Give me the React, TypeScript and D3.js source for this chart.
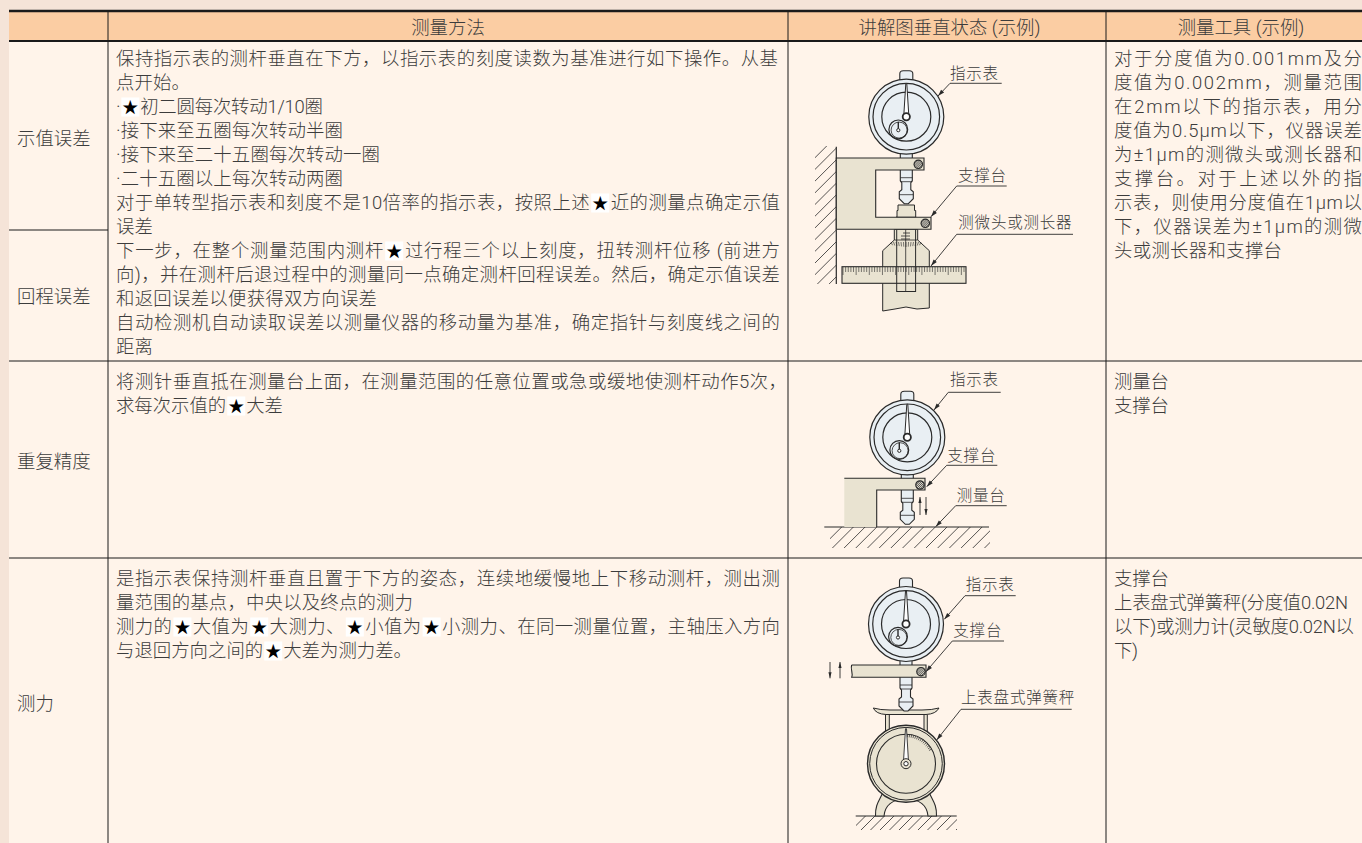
import * as d3 from 'd3';
import { useEffect, useRef } from 'react';

const headers = ['', '测量方法', '讲解图垂直状态 (示例)', '测量工具 (示例)'];
const categories = ['示值误差', '回程误差', '重复精度', '测力'];

const methodLines1 = [
  '保持指示表的测杆垂直在下方，以指示表的刻度读数为基准进行如下操作。从基',
  '点开始。',
  '·★初二圆每次转动1/10圈',
  '·接下来至五圈每次转动半圈',
  '·接下来至二十五圈每次转动一圈',
  '·二十五圈以上每次转动两圈',
  '对于单转型指示表和刻度不是10倍率的指示表，按照上述★近的测量点确定示值',
  '误差',
  '下一步，在整个测量范围内测杆★过行程三个以上刻度，扭转测杆位移 (前进方',
  '向)，并在测杆后退过程中的测量同一点确定测杆回程误差。然后，确定示值误差',
  '和返回误差以便获得双方向误差',
  '自动检测机自动读取误差以测量仪器的移动量为基准，确定指针与刻度线之间的',
  '距离',
];
const methodEnds1 = [778, 190, 323, 343, 380, 343, 780, 153, 780, 780, 377, 780, 153];
const methodLines2 = [
  '将测针垂直抵在测量台上面，在测量范围的任意位置或急或缓地使测杆动作5次，',
  '求每次示值的★大差',
];
const methodEnds2 = [787, 283];
const methodLines3 = [
  '是指示表保持测杆垂直且置于下方的姿态，连续地缓慢地上下移动测杆，测出测',
  '量范围的基点，中央以及终点的测力',
  '测力的★大值为★大测力、★小值为★小测力、在同一测量位置，主轴压入方向',
  '与退回方向之间的★大差为测力差。',
];
const methodEnds3 = [780, 413, 780, 412];

const toolLines1 = [
  '对于分度值为0.001mm及分',
  '度值为0.002mm，测量范围',
  '在2mm以下的指示表，用分',
  '度值为0.5μm以下，仪器误差',
  '为±1μm的测微头或测长器和',
  '支撑台。对于上述以外的指',
  '示表，则使用分度值在1μm以',
  '下，仪器误差为±1μm的测微',
  '头或测长器和支撑台',
];
const toolEnds1 = [1362, 1362, 1362, 1362, 1362, 1362, 1362, 1362, 1282];
const toolLines2 = ['测量台', '支撑台'];
const toolEnds2 = [1169, 1169];
const toolLines3 = ['支撑台', '上表盘式弹簧秤(分度值0.02N', '以下)或测力计(灵敏度0.02N以', '下)'];
const toolEnds3 = [1169, 1348, 1354, 1138];

const gaugeLabel = '指示表';
const supportLabel = '支撑台';
const micrometerLabel = '测微头或测长器';
const tableLabel = '测量台';
const scaleLabel = '上表盘式弹簧秤';

const W = 1362;
const H = 843;
const colX = [9, 108, 788, 1106, W];
const FONT = 'Roboto, "Noto Sans CJK SC", sans-serif';
const FS = 18.4;
const INK = '#2a2a2a';
const TEXT = '#3c3c3c';
const BEIGE = '#e9e3d1';
const FACE = '#e9eff3';
const BODY = '#fff4ea';

const line = d3.line();
type P = [number, number];

function TextBlock({ lines, ends, x, y }: { lines: string[]; ends: number[]; x: number; y: number }) {
  return (
    <g fontSize={FS} fill={TEXT} fontFamily={FONT} fontWeight={300}>
      {lines.map((t, i) => (
        <text key={i} x={x} y={y + i * 24} textLength={ends[i] - x} lengthAdjust="spacing" data-star={t.includes('★') ? 1 : undefined}>
          {t.split(/(★)/).map((s, j, parts) =>
            s === '★'
              ? <tspan key={j} fill="#000" fontWeight={700} fontSize={16} dx={2}>{s}</tspan>
              : <tspan key={j} dx={parts[j - 1] === '★' ? 2 : 0}>{s}</tspan>
          )}
        </text>
      ))}
    </g>
  );
}

// label with underline and leader arrow
function Callout({ text, x, y, x0, x1, uy, tip }: { text: string; x: number; y: number; x0: number; x1: number; uy: number; tip: P }) {
  const a = Math.atan2(tip[1] - uy, tip[0] - x0);
  const head: P[] = [
    tip,
    [tip[0] - 7 * Math.cos(a - 0.3), tip[1] - 7 * Math.sin(a - 0.3)],
    [tip[0] - 7 * Math.cos(a + 0.3), tip[1] - 7 * Math.sin(a + 0.3)],
  ];
  return (
    <g>
      <text x={x} y={y + 5.5} fontFamily={FONT} fontSize={15.5} fontWeight={300} fill={TEXT} letterSpacing={0.8}>{text}</text>
      <path d={line([[x1, uy], [x0, uy], tip]) ?? ''} fill="none" stroke={INK} strokeWidth={0.9} />
      <path d={(line(head) ?? '') + 'Z'} fill={INK} />
    </g>
  );
}

function Screw({ cx, cy }: { cx: number; cy: number }) {
  const r = 4.2;
  const s = 1.5;
  return (
    <g>
      <circle cx={cx} cy={cy} r={r} fill="#d8d4c8" stroke={INK} strokeWidth={1.2} />
      {d3.range(-2, 3).map(d => {
        const half = Math.sqrt(r * r - (d * s) * (d * s)) / Math.SQRT2;
        const ox = (d * s) / Math.SQRT2;
        return <line key={d} x1={cx + ox - half} y1={cy + ox + half} x2={cx + ox + half} y2={cy + ox - half} stroke={INK} strokeWidth={0.75} />;
      })}
    </g>
  );
}

function Gauge({ cx, cy }: { cx: number; cy: number }) {
  const stem: P[] = [
    [cx - 6, cy + 36], [cx - 6, cy + 64], [cx - 4.5, cy + 66], [cx - 4.5, cy + 73], [cx - 7, cy + 75],
    [cx - 7, cy + 82], [cx - 2, cy + 87], [cx + 2, cy + 87], [cx + 7, cy + 82], [cx + 7, cy + 75],
    [cx + 4.5, cy + 73], [cx + 4.5, cy + 66], [cx + 6, cy + 64], [cx + 6, cy + 36],
  ];
  const needle: P[] = [[cx - 0.5, cy - 33], [cx + 0.5, cy - 33], [cx + 2.4, cy - 3], [cx - 2.4, cy - 3]];
  const capTop = d3.path();
  capTop.moveTo(cx - 6.5, cy - 36);
  capTop.lineTo(cx - 6.5, cy - 43);
  capTop.quadraticCurveTo(cx - 6.5, cy - 46, cx - 3, cy - 46);
  capTop.lineTo(cx + 3, cy - 46);
  capTop.quadraticCurveTo(cx + 6.5, cy - 46, cx + 6.5, cy - 43);
  capTop.lineTo(cx + 6.5, cy - 36);
  return (
    <g stroke={INK} fill="none">
      <path d={capTop.toString()} fill={FACE} strokeWidth={1.1} />
      <path d={(line(stem) ?? '') + 'Z'} fill={FACE} strokeWidth={1.1} />
      <path d={`M${cx - 6} ${cy + 61}H${cx + 6}M${cx - 6} ${cy + 65}H${cx + 6}M${cx - 7} ${cy + 78}H${cx + 7}`} strokeWidth={0.8} />
      <circle cx={cx} cy={cy} r={37.5} fill={FACE} strokeWidth={1.2} />
      <circle cx={cx} cy={cy} r={33.3} strokeWidth={1.2} />
      <circle cx={cx} cy={cy} r={24.5} strokeWidth={1.2} />
      <circle cx={cx - 8} cy={cy + 12.7} r={9.4} strokeWidth={1.2} />
      <circle cx={cx - 7.2} cy={cy + 13.4} r={8} strokeWidth={0.8} />
      <path d={`M${cx - 8} ${cy + 5}V${cy + 12.7}`} strokeWidth={1.4} />
      <circle cx={cx - 8} cy={cy + 13.5} r={1.6} fill="#fff" strokeWidth={1} />
      <path d={(line(needle) ?? '') + 'Z'} fill="#fff" strokeWidth={1} />
      <circle cx={cx} cy={cy} r={3.6} fill="#fff" strokeWidth={1.8} />
    </g>
  );
}

function Hatch({ id, x, y, w, h, step = 11.7 }: { id: string; x: number; y: number; w: number; h: number; step?: number }) {
  return (
    <g>
      <clipPath id={id}><rect x={x} y={y} width={w} height={h} /></clipPath>
      <g clipPath={`url(#${id})`} stroke={INK} strokeWidth={0.8}>
        {d3.range(x, x + w + h + step, step).map(s => (
          <line key={s} x1={s} y1={y} x2={s - h} y2={y + h} />
        ))}
      </g>
    </g>
  );
}

function Arrow({ x, y0, y1 }: { x: number; y0: number; y1: number }) {
  const d = y1 > y0 ? 1 : -1;
  return (
    <g>
      <line x1={x} y1={y0} x2={x} y2={y1} stroke={INK} strokeWidth={0.9} />
      <path d={(line([[x, y1], [x - 1.6, y1 - 6 * d], [x + 1.6, y1 - 6 * d]]) ?? '') + 'Z'} fill={INK} />
    </g>
  );
}

function DiagramOne() {
  const bracket: P[] = [[836.3, 158], [924, 158], [924, 170], [875.7, 170], [875.7, 217.3], [931, 217.3], [931, 229.3], [836.3, 229.3]];
  const anvil: P[] = [[898, 205], [914.5, 205], [914.5, 210.5], [915.7, 210.5], [915.7, 217.3], [897, 217.3], [897, 210.5], [898, 210.5]];
  const body: P[] = [[894.3, 229.3], [917.7, 229.3], [917.7, 240], [929.3, 250.7], [929.3, 308], [917, 309], [906, 307], [895, 309], [882.7, 311], [882.7, 250.7], [894.3, 240]];
  const tickX = d3.scaleLinear().domain([0, 46]).range([843, 964]);
  const coneTicks = d3.scaleLinear().domain([-6, 6]).range([-15, 15]);
  return (
    <g>
      <Hatch id="wall" x={815} y={146} w={21} h={138} />
      <line x1={836.3} y1={146.7} x2={836.3} y2={284} stroke={INK} strokeWidth={1.2} />
      <path d={(line(body) ?? '') + 'Z'} fill={BEIGE} stroke={INK} strokeWidth={1} />
      <path d="M894.3 240H917.7" stroke={INK} strokeWidth={0.8} />
      <g stroke={INK} strokeWidth={0.6}>
        {d3.range(-6, 7).map(t => (
          <line key={t} x1={906 + coneTicks(t)} y1={242} x2={906 + coneTicks(t) * 0.9} y2={247 - Math.abs(t) * 0.3} />
        ))}
      </g>
      <rect x={842} y={266.7} width={124} height={16.6} fill={BEIGE} stroke={INK} strokeWidth={1.1} />
      <g stroke={INK} strokeWidth={0.6}>
        {d3.range(0, 47).map(t => (
          <line key={t} x1={tickX(t)} y1={267} x2={tickX(t)} y2={t % 5 === 0 ? 275 : 272} />
        ))}
      </g>
      <rect x={896.7} y={217} width={18.9} height={74.5} fill="none" stroke={INK} strokeWidth={1} />
      <path d="M905.7 229V291M901 236H910M901 239H910M903 233H910" stroke={INK} strokeWidth={0.8} fill="none" />
      <path d={(line(anvil) ?? '') + 'Z'} fill={BEIGE} stroke={INK} strokeWidth={1} />
      <Gauge cx={906.3} cy={116.7} />
      <path d={(line(bracket) ?? '') + 'Z'} fill={BEIGE} stroke={INK} strokeWidth={1.1} />
      <Screw cx={918.3} cy={164.3} />
      <Screw cx={925.3} cy={223.3} />
      <Callout text={gaugeLabel} x={950} y={73} x0={950} x1={1001.7} uy={83.3} tip={[938, 96]} />
      <Callout text={supportLabel} x={958} y={175} x0={956.7} x1={1006.7} uy={186} tip={[931, 216.7]} />
      <Callout text={micrometerLabel} x={958.3} y={222.7} x0={956.7} x1={1073} uy={234.3} tip={[931, 266]} />
    </g>
  );
}

function DiagramTwo() {
  const bracket: P[] = [[844.3, 478.3], [925, 478.3], [925, 490], [876.7, 490], [876.7, 527], [844.3, 527]];
  return (
    <g>
      <Hatch id="floor2" x={830} y={527} w={160} h={21} />
      <line x1={824.3} y1={527} x2={989} y2={527} stroke={INK} strokeWidth={1.1} />
      <Gauge cx={907.3} cy={437.3} />
      <path d={(line(bracket) ?? '') + 'Z'} fill={BEIGE} stroke="none" />
      <path d={line([[844.3, 478.3], [925, 478.3], [925, 490], [876.7, 490], [876.7, 527]]) ?? ''} fill="none" stroke={INK} strokeWidth={1.1} />
      <Screw cx={920} cy={485} />
      <Arrow x={920} y0={515} y1={497} />
      <Arrow x={926} y0={497} y1={515} />
      <Callout text={gaugeLabel} x={950} y={379.3} x0={948.3} x1={1000.7} uy={392.3} tip={[934, 410]} />
      <Callout text={supportLabel} x={947.3} y={455} x0={946.7} x1={997.3} uy={465.3} tip={[926.7, 486.7]} />
      <Callout text={tableLabel} x={956.7} y={495} x0={955.7} x1={1006.7} uy={505.7} tip={[935.7, 526.7]} />
    </g>
  );
}

function DiagramThree() {
  const cx = 906;
  const cy = 763.7;
  const bar = d3.path();
  bar.moveTo(851.7, 665);
  bar.lineTo(926, 665);
  bar.lineTo(926, 677.3);
  bar.lineTo(851.7, 677.3);
  bar.bezierCurveTo(853.5, 673, 850, 669, 851.7, 665);
  const plate = d3.path();
  plate.moveTo(873.3, 708);
  plate.quadraticCurveTo(880, 710, 890, 710);
  plate.lineTo(922, 710);
  plate.quadraticCurveTo(932, 710, 939, 708);
  plate.quadraticCurveTo(936, 714, 926, 714.5);
  plate.lineTo(886, 714.5);
  plate.quadraticCurveTo(876, 714, 873.3, 708);
  const feet = d3.path();
  feet.moveTo(884, 790);
  feet.bezierCurveTo(880, 800, 875, 804, 875.5, 816);
  feet.lineTo(884, 816);
  feet.bezierCurveTo(885, 806, 892, 799, 906, 799);
  feet.bezierCurveTo(920, 799, 927, 806, 928, 816);
  feet.lineTo(936.5, 816);
  feet.bezierCurveTo(937, 804, 932, 800, 928, 790);
  feet.closePath();
  const tickAngle = d3.scaleLinear().domain([0, 14]).range([0.05, 1.05]);
  const ticks = d3.range(0, 15).map(i => tickAngle(i));
  const needle: P[] = [[cx - 0.5, cy - 35], [cx + 0.5, cy - 35], [cx + 2.4, cy - 4], [cx - 2.4, cy - 4]];
  return (
    <g>
      <Hatch id="floor3" x={856} y={816} w={101} h={14} step={9.5} />
      <line x1={855.7} y1={816} x2={956.7} y2={816} stroke={INK} strokeWidth={1.1} />
      <path d={feet.toString()} fill={BEIGE} stroke={INK} strokeWidth={1.1} />
      <path d="M885.5 714.5V732H889.3V714.5M924 714.5V732H927.3V714.5" fill={BEIGE} stroke={INK} strokeWidth={1} />
      <path d={plate.toString()} fill={BEIGE} stroke={INK} strokeWidth={1} />
      <Gauge cx={906} cy={624} />
      <path d={bar.toString()} fill={BEIGE} stroke={INK} strokeWidth={1.1} />
      <Screw cx={921} cy={671.7} />
      <Arrow x={830} y0={662} y1={678.3} />
      <Arrow x={840} y0={678.3} y1={662} />
      <g stroke={INK} fill="none">
        <circle cx={cx} cy={cy} r={38.5} fill={BEIGE} strokeWidth={1.4} />
        <circle cx={cx} cy={cy} r={36.3} strokeWidth={1} />
        <circle cx={cx} cy={cy} r={29.5} strokeWidth={1.1} />
        {ticks.map((a, i) => (
          <line key={i} x1={cx + 26.5 * Math.sin(a)} y1={cy - 26.5 * Math.cos(a)} x2={cx + 29.5 * Math.sin(a)} y2={cy - 29.5 * Math.cos(a)} strokeWidth={0.7} />
        ))}
        <path d={(line(needle) ?? '') + 'Z'} fill="#fff" strokeWidth={0.9} />
        <circle cx={cx} cy={cy} r={5} fill={BEIGE} strokeWidth={1} />
        <circle cx={cx} cy={cy} r={2.2} fill="#fff" strokeWidth={1} />
      </g>
      <Callout text={gaugeLabel} x={965.7} y={584} x0={965} x1={1015.7} uy={595.7} tip={[944.3, 619.3]} />
      <Callout text={supportLabel} x={953.3} y={630} x0={952.3} x1={1004} uy={641} tip={[926, 671.7]} />
      <Callout text={scaleLabel} x={961} y={697.3} x0={961} x1={1071.7} uy={709.3} tip={[936.7, 740]} />
    </g>
  );
}

export default function App() {
  const ref = useRef<SVGSVGElement>(null);

  useEffect(() => {
    // white box behind each star glyph, measured after layout
    const svg = d3.select(ref.current);
    svg.selectAll('.star-bg').remove();
    svg.selectAll<SVGTextElement, unknown>('text[data-star]').each(function () {
      const txt = this.textContent ?? '';
      const baseline = +(this.getAttribute('y') ?? 0);
      for (let i = 0; i < txt.length; i++) {
        if (txt[i] !== '★') continue;
        const b = this.getExtentOfChar(i);
        const r = document.createElementNS('http://www.w3.org/2000/svg', 'rect');
        r.setAttribute('class', 'star-bg');
        r.setAttribute('x', String(b.x - 1));
        r.setAttribute('y', String(baseline - 15.5));
        r.setAttribute('width', String(b.width + 2));
        r.setAttribute('height', '19');
        r.setAttribute('fill', '#fff');
        this.parentNode?.insertBefore(r, this);
      }
    });
  }, []);

  const headCenters = [58, 448, 949.5, 1241];
  const catY = [138, 296, 461, 703];

  return (
    <svg ref={ref} width={W} height={H} style={{ position: 'fixed', left: 0, top: 0, display: 'block' }}>
      <rect width={W} height={H} fill="#f5e4d8" />
      <rect x={colX[0]} y={11} width={W - colX[0]} height={30} fill="#fbcda3" />
      <rect x={colX[0]} y={41} width={W - colX[0]} height={H - 41} fill={BODY} />

      <DiagramOne />
      <DiagramTwo />
      <DiagramThree />

      <g stroke="#1a1a1a">
        <line x1={colX[0]} x2={W} y1={11} y2={11} strokeWidth={2.4} />
        <line x1={colX[0]} x2={W} y1={41} y2={41} strokeWidth={2.2} />
        {colX.slice(1, 4).map(x => (
          <line key={x} x1={x} x2={x} y1={11} y2={H} strokeWidth={1} />
        ))}
        <line x1={colX[0]} x2={colX[1]} y1={230} y2={230} strokeWidth={1} />
        <line x1={colX[0]} x2={W} y1={361} y2={361} strokeWidth={1} />
        <line x1={colX[0]} x2={W} y1={558} y2={558} strokeWidth={1} />
      </g>

      <g fontFamily={FONT} fontSize={FS} fontWeight={300} fill={TEXT} textAnchor="middle">
        {headers.map((h, i) => (
          <text key={i} x={headCenters[i]} y={33.5}>{h}</text>
        ))}
      </g>
      <g fontFamily={FONT} fontSize={FS} fontWeight={300} fill={TEXT}>
        {categories.map((c, i) => (
          <text key={c} x={17} y={catY[i] + 7}>{c}</text>
        ))}
      </g>

      <TextBlock lines={methodLines1} ends={methodEnds1} x={116} y={65} />
      <TextBlock lines={methodLines2} ends={methodEnds2} x={116} y={388} />
      <TextBlock lines={methodLines3} ends={methodEnds3} x={116} y={585} />
      <TextBlock lines={toolLines1} ends={toolEnds1} x={1114} y={65} />
      <TextBlock lines={toolLines2} ends={toolEnds2} x={1114} y={388} />
      <TextBlock lines={toolLines3} ends={toolEnds3} x={1114} y={585} />
    </svg>
  );
}
